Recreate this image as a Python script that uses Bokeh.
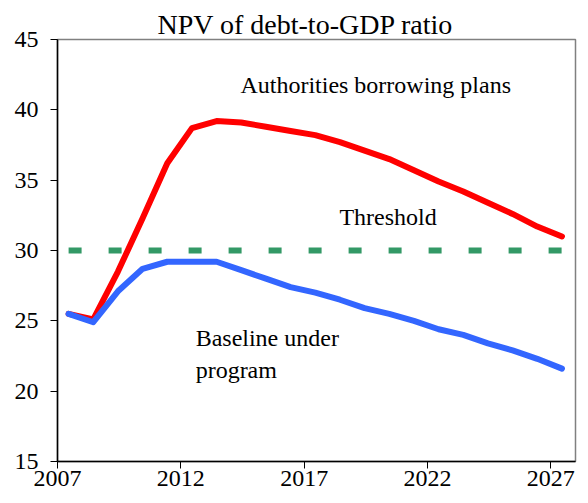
import numpy as np
from bokeh.plotting import figure
from bokeh.models import Range1d, FixedTicker, Label
from bokeh.embed import file_html
from bokeh.resources import INLINE

years = list(range(2007, 2028))
authorities = [25.5, 25.1, 28.5, 32.3, 36.2, 38.7, 39.2, 39.1, 38.8, 38.5, 38.2,
               37.7, 37.1, 36.5, 35.7, 34.9, 34.2, 33.4, 32.6, 31.7, 31.0]
baseline = [25.5, 24.9, 27.1, 28.7, 29.2, 29.2, 29.2, 28.6, 28.0, 27.4, 27.0,
            26.5, 25.9, 25.5, 25.0, 24.4, 24.0, 23.4, 22.9, 22.3, 21.6]
threshold = [30.0] * len(years)
x_ticks = [2007, 2012, 2017, 2022, 2027]
y_ticks = [15, 20, 25, 30, 35, 40, 45]

# category centres sit a little to the right of each year's tick
xs = np.array(years) + 0.45

SERIF = "Liberation Serif"

p = figure(width=588, height=503, output_backend="svg", toolbar_location=None,
           x_range=Range1d(2007, 2028), y_range=Range1d(15, 45),
           min_border_left=57, min_border_right=13, min_border_top=39,
           min_border_bottom=42)

p.title.text = "NPV of debt-to-GDP ratio"
p.title.text_font = SERIF
p.title.text_font_size = "28px"
p.title.text_font_style = "normal"
p.title.text_color = "black"
p.title.align = "left"
p.title.offset = 100
p.title.standoff = 0

p.xgrid.visible = False
p.ygrid.visible = False
p.outline_line_color = "#808080"
p.outline_line_width = 1.5
p.background_fill_color = "white"
p.border_fill_color = "white"

for ax in (p.xaxis[0], p.yaxis[0]):
    ax.axis_line_color = "black"
    ax.axis_line_width = 1.5
    ax.major_tick_line_color = "black"
    ax.major_tick_in = 0
    ax.major_tick_out = 7
    ax.minor_tick_line_color = None
    ax.major_label_text_font = SERIF
    ax.major_label_text_font_size = "24px"
    ax.major_label_text_color = "black"

p.xaxis.ticker = FixedTicker(ticks=x_ticks)
p.yaxis.ticker = FixedTicker(ticks=y_ticks)
p.xaxis.major_label_standoff = 2
p.yaxis.major_label_standoff = 12

p.line(xs, threshold, line_color="#339966", line_width=6, line_dash="13 27")
p.line(xs, authorities, line_color="#ff0000", line_width=6, line_join="round", line_cap="round")
p.line(xs, baseline, line_color="#3366ff", line_width=6, line_join="round", line_cap="round")

def lab(x, y, t, align):
    p.add_layout(Label(x=x, y=y, text=t, text_font=SERIF, text_font_size="24px",
                       text_align=align, text_baseline="alphabetic", text_color="black"))

lab(2019.9, 41.8, "Authorities borrowing plans", "center")
lab(2020.4, 32.4, "Threshold", "center")
lab(2012.6, 23.75, "Baseline under", "left")
lab(2012.6, 21.5, "program", "left")

open("out.html", "w").write(file_html(p, INLINE))
